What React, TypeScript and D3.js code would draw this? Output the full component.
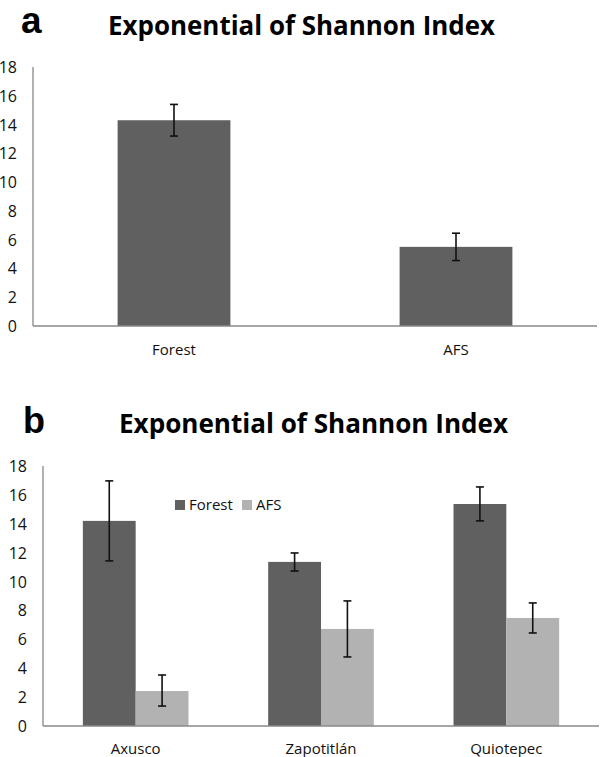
import React from "react";
import * as d3 from "d3";

const titleText = "Exponential of Shannon Index";
const yTicks = [0, 2, 4, 6, 8, 10, 12, 14, 16, 18];

// Panel a
const aCategories = ["Forest", "AFS"];
const aValues = [14.3, 5.5];
const aErrLow = [13.2, 4.55];
const aErrHigh = [15.4, 6.45];

// Panel b
const bSites = ["Axusco", "Zapotitlán", "Quiotepec"];
const bSeries = ["Forest", "AFS"];
const bForest = [14.2, 11.36, 15.37];
const bAFS = [2.42, 6.72, 7.48];
const bForestLow = [11.43, 10.73, 14.2];
const bForestHigh = [16.97, 11.98, 16.55];
const bAFSLow = [1.38, 4.78, 6.44];
const bAFSHigh = [3.53, 8.66, 8.52];

const DARK = "#606060";
const LIGHT = "#b2b2b2";
const AXIS = "#888888";
const FONT = "'Open Sans', sans-serif";

function ErrorBar({ x, y1, y2 }: { x: number; y1: number; y2: number }) {
  return (
    <g stroke="#111" strokeWidth={1.6}>
      <line x1={x} x2={x} y1={y1} y2={y2} />
      <line x1={x - 4} x2={x + 4} y1={y1} y2={y1} />
      <line x1={x - 4} x2={x + 4} y1={y2} y2={y2} />
    </g>
  );
}

function YAxis({ x, y }: { x: number; y: d3.ScaleLinear<number, number> }) {
  return (
    <g>
      <line x1={x} x2={x} y1={y(18)} y2={y(0)} stroke={AXIS} strokeWidth={1.3} />
      {yTicks.map((t) => (
        <text
          key={t}
          x={x - 16}
          y={y(t)}
          textAnchor="end"
          dominantBaseline="central"
          fontFamily={FONT}
          fontSize={16}
          fill="#111"
        >
          {t}
        </text>
      ))}
    </g>
  );
}

export default function App() {
  // Panel a scales
  const ya = d3.scaleLinear().domain([0, 18]).range([326, 67]);
  const xa = d3.scaleBand<string>().domain(aCategories).range([33, 597]);
  const barWa = xa.bandwidth() * 0.4;

  // Panel b scales
  const yb = d3.scaleLinear().domain([0, 18]).range([726, 466]);
  const xb = d3.scaleBand<string>().domain(bSites).range([43, 599]);
  const groupW = xb.bandwidth() * 0.57;
  const xs = d3.scaleBand<string>().domain(bSeries).range([0, groupW]);

  const bData = bSites.map((s, i) => ({
    site: s,
    items: [
      { key: "Forest", v: bForest[i], lo: bForestLow[i], hi: bForestHigh[i], c: DARK },
      { key: "AFS", v: bAFS[i], lo: bAFSLow[i], hi: bAFSHigh[i], c: LIGHT },
    ],
  }));

  return (
    <svg
      width={600}
      height={757}
      style={{ position: "absolute", left: 0, top: 0, background: "#fff" }}
    >
      <rect width={600} height={757} fill="#fff" />
      {/* Panel a */}
      <text x={21} y={33} fontFamily="'Liberation Sans', Arial, sans-serif" fontWeight="bold" fontSize={37} fill="#000">
        a
      </text>
      <text
        x={108}
        y={35}
        fontFamily={FONT}
        fontWeight="bold"
        fontSize={26}
        textLength={387}
        lengthAdjust="spacingAndGlyphs"
        fill="#000"
      >
        {titleText}
      </text>
      <YAxis x={33} y={ya} />
      {aCategories.map((c, i) => {
        const cx = (xa(c) as number) + xa.bandwidth() / 2;
        return (
          <g key={c}>
            <rect x={cx - barWa / 2} y={ya(aValues[i])} width={barWa} height={ya(0) - ya(aValues[i])} fill={DARK} />
            <ErrorBar x={cx} y1={ya(aErrHigh[i])} y2={ya(aErrLow[i])} />
            <text x={cx} y={355} textAnchor="middle" fontFamily={FONT} fontSize={15} fill="#111">
              {c}
            </text>
          </g>
        );
      })}
      <line x1={33} x2={597} y1={ya(0)} y2={ya(0)} stroke={AXIS} strokeWidth={1.3} />

      {/* Panel b */}
      <text x={23} y={433} fontFamily="'Liberation Sans', Arial, sans-serif" fontWeight="bold" fontSize={36} fill="#000">
        b
      </text>
      <text
        x={119}
        y={433}
        fontFamily={FONT}
        fontWeight="bold"
        fontSize={26}
        textLength={389}
        lengthAdjust="spacingAndGlyphs"
        fill="#000"
      >
        {titleText}
      </text>
      <YAxis x={43} y={yb} />
      {bData.map((d) => {
        const cx = (xb(d.site) as number) + xb.bandwidth() / 2;
        const gx = cx - groupW / 2;
        return (
          <g key={d.site}>
            {d.items.map((it) => {
              const bx = gx + (xs(it.key) as number);
              const bw = xs.bandwidth();
              return (
                <g key={it.key}>
                  <rect x={bx} y={yb(it.v)} width={bw} height={yb(0) - yb(it.v)} fill={it.c} />
                  <ErrorBar x={bx + bw / 2} y1={yb(it.hi)} y2={yb(it.lo)} />
                </g>
              );
            })}
            <text x={cx} y={754} textAnchor="middle" fontFamily={FONT} fontSize={15} fill="#111">
              {d.site}
            </text>
          </g>
        );
      })}
      <line x1={43} x2={599} y1={yb(0)} y2={yb(0)} stroke={AXIS} strokeWidth={1.3} />

      {/* Legend */}
      {bSeries.map((s, i) => {
        const lx = [175, 242][i];
        return (
          <g key={s}>
            <rect x={lx} y={500} width={10} height={10} fill={i === 0 ? DARK : LIGHT} />
            <text x={lx + 14} y={510} fontFamily={FONT} fontSize={15} fill="#111">
              {s}
            </text>
          </g>
        );
      })}
    </svg>
  );
}
